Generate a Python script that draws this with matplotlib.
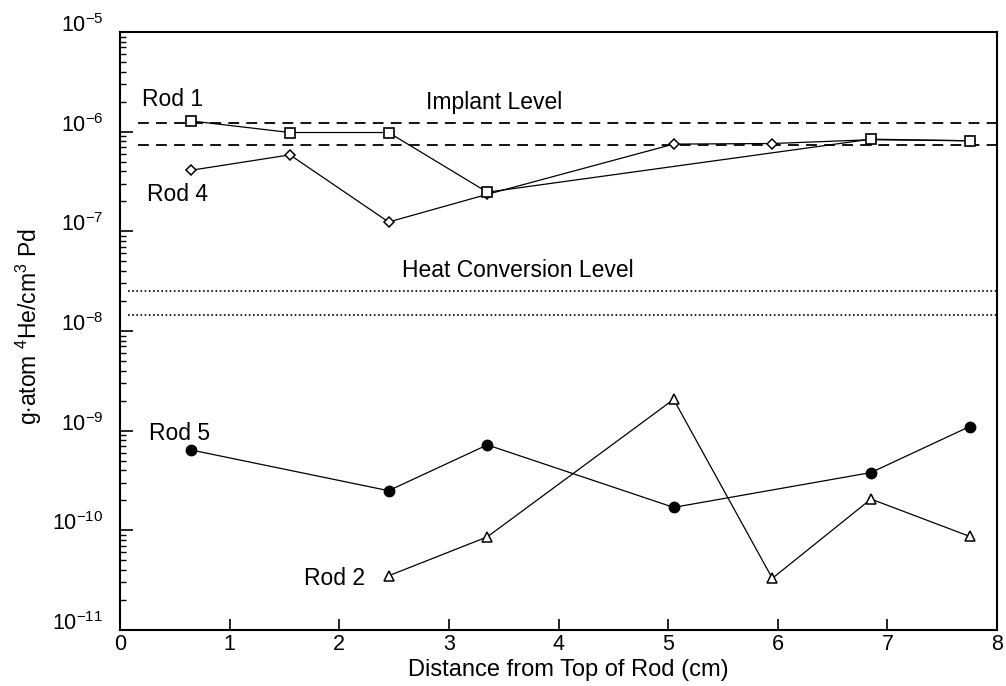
import numpy as np
import matplotlib
matplotlib.use("Agg")
import matplotlib.pyplot as plt
from matplotlib.ticker import LogLocator, NullFormatter

plt.rcParams['font.family'] = ['Liberation Sans', 'DejaVu Sans']
plt.rcParams['mathtext.fontset'] = 'custom'
plt.rcParams['mathtext.rm'] = 'Liberation Sans'
plt.rcParams['mathtext.it'] = 'Liberation Sans'
plt.rcParams['mathtext.bf'] = 'Liberation Sans'

# distance from top of rod (cm)
x_rod1 = [0.65, 1.55, 2.45, 3.35, 6.85, 7.75]
y_rod1 = [1.28e-6, 9.8e-7, 9.8e-7, 2.47e-7, 8.4e-7, 8.1e-7]

x_rod4 = [0.65, 1.55, 2.45, 3.35, 5.05, 5.95, 6.85, 7.75]
y_rod4 = [4.1e-7, 5.85e-7, 1.24e-7, 2.35e-7, 7.5e-7, 7.6e-7, 8.3e-7, 8.1e-7]

x_rod5 = [0.65, 2.45, 3.35, 5.05, 6.85, 7.75]
y_rod5 = [6.4e-10, 2.5e-10, 7.2e-10, 1.7e-10, 3.8e-10, 1.1e-9]

x_rod2 = [2.45, 3.35, 5.05, 5.95, 6.85, 7.75]
y_rod2 = [3.5e-11, 8.6e-11, 2.06e-9, 3.3e-11, 2.06e-10, 8.7e-11]

implant_levels = [1.22e-6, 7.3e-7]
heat_levels = [2.5e-8, 1.46e-8]

fig = plt.figure(figsize=(10.06, 6.86), dpi=100)
ax = fig.add_axes([0.1193, 0.0816, 0.8718, 0.8718])

for lv in implant_levels:
    ax.plot([0.16, 8.0], [lv, lv], color='black', lw=1.3, ls=(0, (6, 4)))
for lv in heat_levels:
    ax.plot([0.07, 8.0], [lv, lv], color='black', lw=1.2, ls=(0, (1, 1.5)))

lw = 0.9
ax.plot(x_rod1, y_rod1, color='black', lw=lw, marker='s', ms=7.5,
        mfc='white', mec='black', mew=1.2, zorder=4)
ax.plot(x_rod4, y_rod4, color='black', lw=lw, marker='D', ms=5.5,
        mfc='white', mec='black', mew=1.1, zorder=3)
ax.plot(x_rod5, y_rod5, color='black', lw=lw, marker='o', ms=7.5,
        mfc='black', mec='black', zorder=3)
ax.plot(x_rod2, y_rod2, color='black', lw=lw, marker='^', ms=7,
        mfc='white', mec='black', mew=1.1, zorder=3)

fs = 16.5
ax.text(0.20, 2.1e-6, 'Rod 1', fontsize=fs, va='center', ha='left')
ax.text(0.246, 2.34e-7, 'Rod 4', fontsize=fs, va='center', ha='left')
ax.text(2.79, 1.95e-6, 'Implant Level', fontsize=fs, va='center', ha='left')
ax.text(2.57, 4.07e-8, 'Heat Conversion Level', fontsize=fs, va='center', ha='left')
ax.text(0.264, 9.3e-10, 'Rod 5', fontsize=fs, va='center', ha='left')
ax.text(1.68, 3.3e-11, 'Rod 2', fontsize=fs, va='center', ha='left')

ax.set_yscale('log')
ax.set_xlim(0, 8)
ax.set_ylim(1e-11, 1e-5)
ax.set_xticks(range(0, 9))
ax.yaxis.set_major_locator(LogLocator(base=10, numticks=10))
ax.yaxis.set_minor_locator(LogLocator(base=10, subs=np.arange(2, 10), numticks=20))
ax.yaxis.set_minor_formatter(NullFormatter())

ax.tick_params(axis='both', which='both', direction='in', top=False, right=False,
               color='black')
ax.tick_params(axis='y', which='major', length=9, width=1.2, pad=12, labelsize=15.5)
ax.tick_params(axis='y', which='minor', length=4.5, width=1.0)
ax.tick_params(axis='x', which='major', length=8, width=1.2, pad=3, labelsize=15.5)

# the scanned figure sets the y labels on their baseline
for t in ax.yaxis.get_major_ticks():
    t.label1.set_va('baseline')

for sp in ax.spines.values():
    sp.set_linewidth(1.5)

ax.set_xlabel('Distance from Top of Rod (cm)', fontsize=17, labelpad=3)
ax.xaxis.label.set_x(0.511)
ax.set_ylabel(r'g$\cdot$atom $^4$He/cm$^3$ Pd', fontsize=16.5, labelpad=6)
ax.yaxis.label.set_y(0.507)

fig.savefig('out.png', dpi=100)
